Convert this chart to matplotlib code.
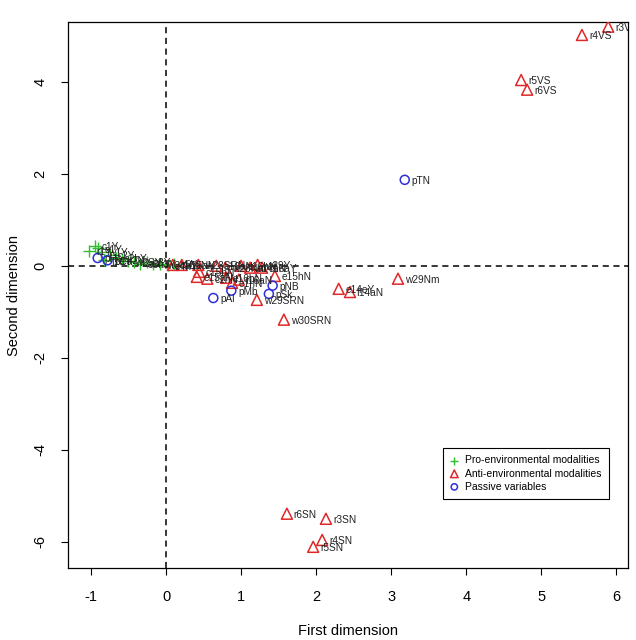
import matplotlib.pyplot as plt

plt.rcParams['font.family'] = ['Liberation Sans', 'DejaVu Sans']
plt.rcParams['axes.unicode_minus'] = False

# Pro-environmental modalities (green pluses)
pro_x = [-1.02, -0.95, -0.91, -0.86, -0.82, -0.74, -0.66, -0.58, -0.50, -0.42,
         -0.34, -0.26, -0.17, -0.08, 0.02, 0.10]
pro_y = [0.33, 0.43, 0.38, 0.30, 0.12, 0.24, 0.18, 0.14, 0.10, 0.08,
         0.05, 0.09, 0.04, 0.03, 0.01, 0.04]
pro_lab = ['r1Y', 'c1Y', 'e1Y', 'w1Y', 'f1aY', 'c2Y', 'e2hY', 'r2Y', 'w2SY', 'f2aY',
           'e3hY', 'c3Y', 'r3Y', 'w3Y', 'e4hY', 'c5Y']

# Anti-environmental modalities (red triangles)
anti_x = [5.89, 5.54, 4.73, 4.81, 3.09, 2.30, 2.45, 1.57, 1.21, 1.45,
          1.61, 2.13, 2.08, 1.96,
          0.09, 0.21, 0.43, 0.44, 0.41, 0.55, 0.67, 0.79, 0.80, 0.88,
          0.97, 1.00, 1.12, 1.22, 1.28]
anti_y = [5.20, 5.02, 4.04, 3.83, -0.28, -0.50, -0.57, -1.17, -0.74, -0.22,
          -5.39, -5.50, -5.96, -6.11,
          0.02, 0.02, 0.02, -0.13, -0.24, -0.28, 0.00, -0.04, -0.26, -0.37,
          -0.30, 0.00, -0.04, 0.02, -0.04]
anti_lab = ['r3VS', 'r4VS', 'r5VS', 'r6VS', 'w29Nm', 'e14eY', 'f14aN', 'w30SRN', 'w29SRN', 'e15hN',
            'r6SN', 'r3SN', 'r4SN', 'r5SN',
            'c15aN', 'f15aN', 'w28SRN', 'c15hN', 'e15aN', 'c1hN', 'e16aN', 'w28Nm', 'e16hN', 'e1hN',
            'f16aN', 'c16hN', 'e14hN', 'w29Y', 'c16aY']

# Passive variables (blue circles)
pas_x = [3.18, 1.42, 1.37, 0.87, 0.63, -0.91, -0.78]
pas_y = [1.87, -0.43, -0.61, -0.54, -0.70, 0.17, 0.12]
pas_lab = ['pTN', 'pNB', 'pSk', 'pMb', 'pAl', 'pHo', 'pCa']

fig = plt.figure(figsize=(6.36, 6.40), dpi=100)
ax = fig.add_axes([0.107, 0.1125, 0.880, 0.853])

ax.axvline(0, color='black', lw=1.1, ls=(0, (4, 3)), zorder=1)
ax.axhline(0, color='black', lw=1.1, ls=(0, (4, 3)), zorder=1)

ax.scatter(pro_x, pro_y, marker='+', s=70, color='#2fbf2f', linewidths=1.0,
           zorder=3, label='Pro-environmental modalities')
ax.scatter(anti_x, anti_y, marker='^', s=62, facecolors='none', edgecolors='#e02828',
           linewidths=1.1, zorder=3, label='Anti-environmental modalities')
ax.scatter(pas_x, pas_y, marker='o', s=42, facecolors='none', edgecolors='#3030d8',
           linewidths=1.1, zorder=3, label='Passive variables')

for xs, ys, labs in [(pro_x, pro_y, pro_lab), (anti_x, anti_y, anti_lab), (pas_x, pas_y, pas_lab)]:
    for x, y, t in zip(xs, ys, labs):
        ax.annotate(t, (x, y), xytext=(5, -1), textcoords='offset points',
                    fontsize=7.3, color='#222222', va='center', ha='left',
                    clip_on=True, zorder=4)

ax.set_xlim(-1.305, 6.15)
ax.set_ylim(-6.57, 5.30)
ax.set_xticks(range(-1, 7))
ax.set_yticks([-6, -4, -2, 0, 2, 4])
ax.tick_params(axis='both', direction='out', length=5, width=0.8, labelsize=10.5)
ax.tick_params(axis='x', pad=11)
ax.tick_params(axis='y', pad=10)
for lab in ax.get_yticklabels():
    lab.set_rotation(90)
    lab.set_va('center')

for sp in ax.spines.values():
    sp.set_linewidth(0.9)

ax.set_xlabel('First dimension', fontsize=10.5, labelpad=14)
ax.set_ylabel('Second dimension', fontsize=10.5, labelpad=9)

leg = ax.legend(loc='lower right', bbox_to_anchor=(0.975, 0.117), fontsize=7.5,
                frameon=True, fancybox=False, edgecolor='black', framealpha=1,
                handlelength=0.8, handletextpad=0.6, borderpad=0.7, labelspacing=0.3,
                scatterpoints=1, markerscale=0.7)
leg.get_frame().set_linewidth(0.8)

fig.savefig('out.png', dpi=100)
